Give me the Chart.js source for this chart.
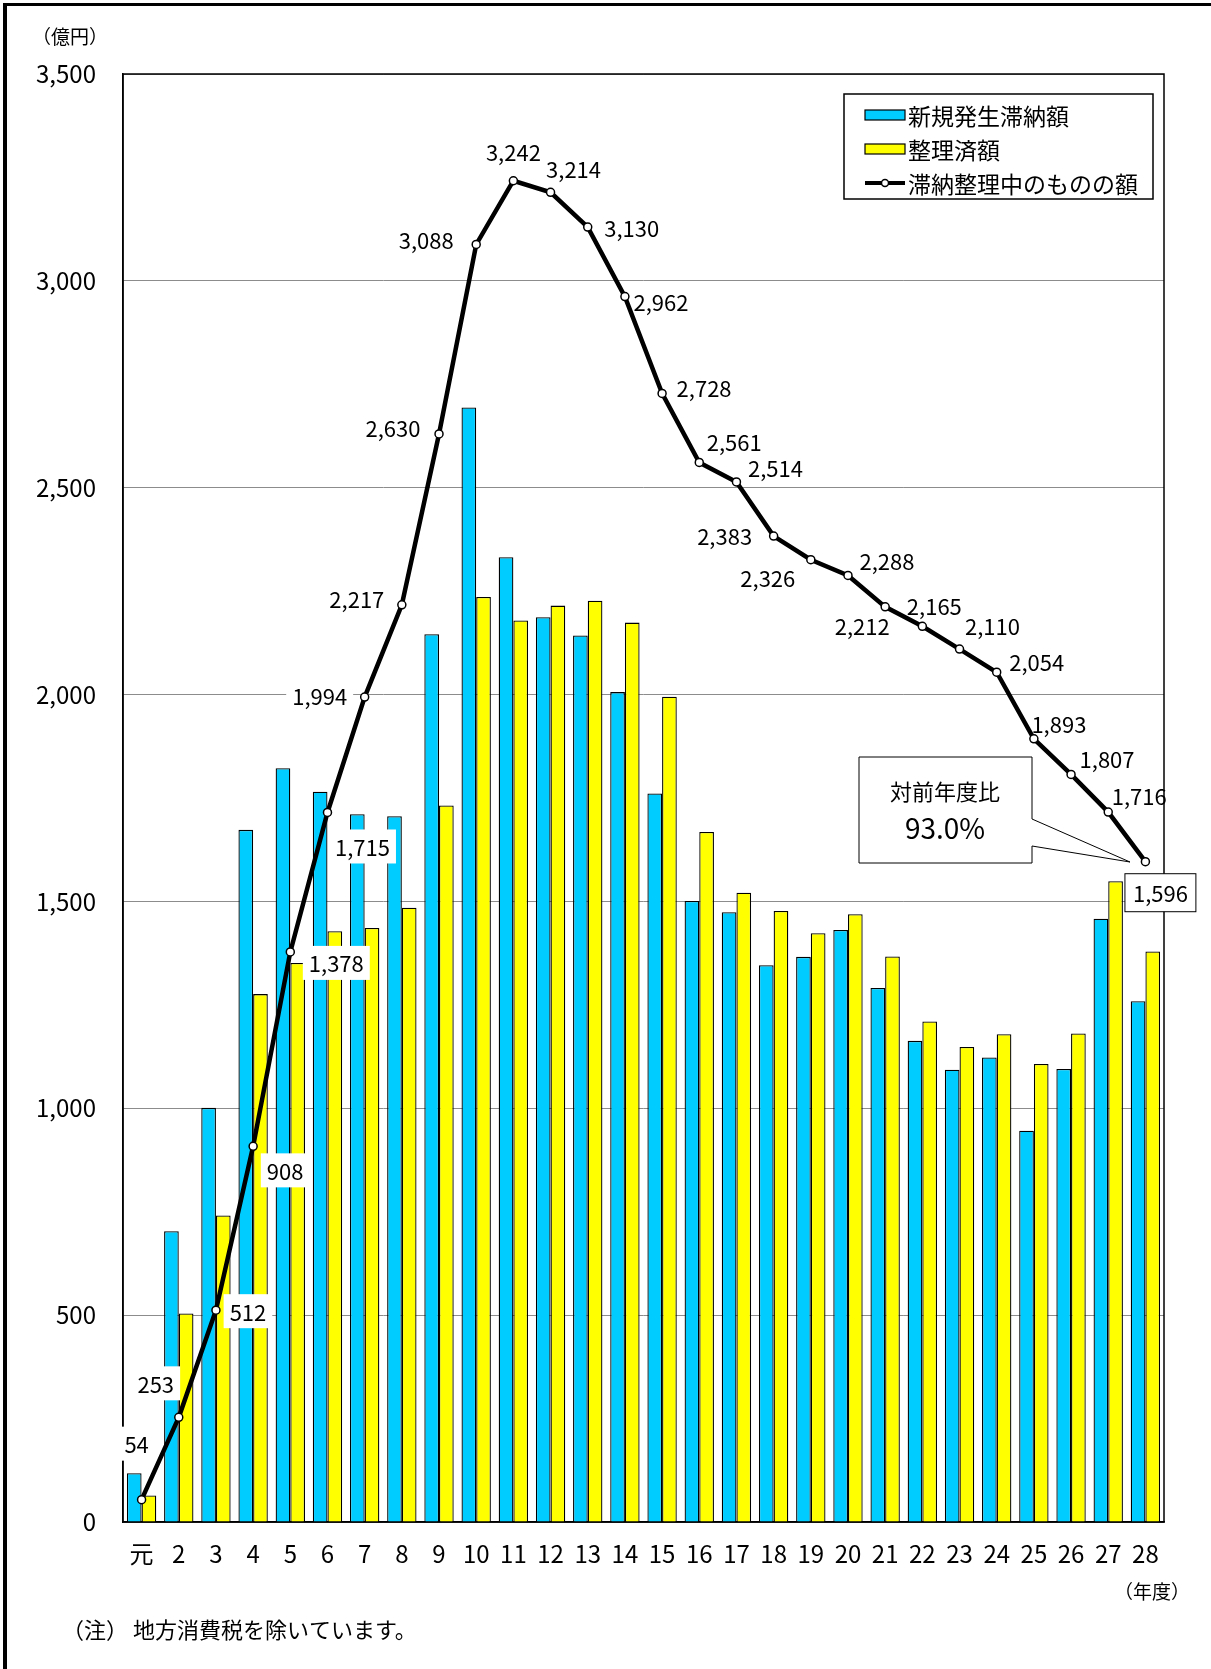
<!DOCTYPE html>
<html lang="ja">
<head>
<meta charset="utf-8">
<title>滞納整理中のものの額</title>
<script src="https://cdn.jsdelivr.net/npm/chart.js@4.4.1/dist/chart.umd.min.js"></script>
<style>
  html, body { margin: 0; padding: 0; background: #fff; }
  #wrap { position: relative; width: 1211px; height: 1669px; }
</style>
</head>
<body>
<div id="wrap"><canvas id="arrearsChart"></canvas></div>
<script>
// data (億円)
const years = ['元', '2', '3', '4', '5', '6', '7', '8', '9', '10', '11', '12', '13', '14',
    '15', '16', '17', '18', '19', '20', '21', '22', '23', '24', '25', '26', '27', '28'];
const newArrears = [118, 703, 1001, 1673, 1822, 1765, 1711, 1706, 2146, 2694, 2332, 2187, 2143, 2006,
    1761, 1501, 1474, 1346, 1366, 1431, 1291, 1163, 1093, 1123, 946, 1095, 1458, 1259];
const settled = [64, 504, 741, 1276, 1351, 1428, 1436, 1485, 1732, 2236, 2179, 2215, 2227, 2174,
    1995, 1668, 1521, 1477, 1423, 1469, 1367, 1210, 1148, 1179, 1107, 1181, 1549, 1379];
const outstanding = [54, 253, 512, 908, 1378, 1715, 1994, 2217, 2630, 3088, 3242, 3214, 3130, 2962,
    2728, 2561, 2514, 2383, 2326, 2288, 2212, 2165, 2110, 2054, 1893, 1807, 1716, 1596];
const yTicks = [0, 500, 1000, 1500, 2000, 2500, 3000, 3500];
const yoyRatio = '93.0%';

// where each line label sits relative to its point (px), and which ones get a white box
const labelOffsets = [[-5, -56], [-23, -34], [32, 1], [32, 24], [46, 11], [35, 34], [-45, -1],
    [-45, -6], [-46, -6], [-50, -5], [0, -29], [23, -24], [44, 1], [36, 5], [42, -6], [35, -21],
    [39, -14], [-49, 0], [-43, 18], [39, -15], [-23, 19], [12, -21], [33, -23], [40, -11],
    [25, -15], [36, -16], [31, -16], [15, 31]];
const boxedLabels = [0, 1, 2, 3, 4, 5, 6];

const numFont = "'Noto Sans CJK JP', sans-serif";
const jpFont = "'Noto Sans CJK JP', sans-serif";
const BLUE = '#00CCFF';
const YELLOW = '#FFFF00';

const fmt = v => v.toLocaleString('en-US');

const decorations = {
    id: 'decorations',
    beforeDatasetsDraw(chart) {
        const { ctx, chartArea: a } = chart;
        ctx.save();
        ctx.strokeStyle = '#000';
        ctx.lineWidth = 1.5;
        ctx.strokeRect(a.left, a.top, a.right - a.left, a.bottom - a.top);
        ctx.restore();
    },
    afterDatasetsDraw(chart) {
        const { ctx } = chart;
        const pts = chart.getDatasetMeta(2).data;
        ctx.save();
        ctx.font = '22px ' + numFont;
        ctx.textAlign = 'center';
        ctx.textBaseline = 'middle';
        pts.forEach((p, i) => {
            const text = fmt(outstanding[i]);
            const x = p.x + labelOffsets[i][0];
            const y = p.y + labelOffsets[i][1];
            const w = ctx.measureText(text).width + 12;
            const h = 34;
            if (boxedLabels.includes(i)) {
                ctx.fillStyle = '#fff';
                ctx.fillRect(x - w / 2, y - h / 2, w, h);
            }
            if (i === pts.length - 1) {
                ctx.fillStyle = '#fff';
                ctx.fillRect(x - w / 2 - 2, y - h / 2 - 2, w + 4, h + 4);
                ctx.strokeStyle = '#000';
                ctx.lineWidth = 1;
                ctx.strokeRect(x - w / 2 - 2, y - h / 2 - 2, w + 4, h + 4);
            }
            ctx.fillStyle = '#000';
            ctx.fillText(text, x, y + 1);
        });

        // callout 対前年度比
        ctx.beginPath();
        ctx.moveTo(859, 757);
        ctx.lineTo(1032, 757);
        ctx.lineTo(1032, 819);
        ctx.lineTo(1130, 862);
        ctx.lineTo(1032, 846);
        ctx.lineTo(1032, 863);
        ctx.lineTo(859, 863);
        ctx.closePath();
        ctx.fillStyle = '#fff';
        ctx.fill();
        ctx.strokeStyle = '#000';
        ctx.lineWidth = 1;
        ctx.stroke();
        ctx.fillStyle = '#000';
        ctx.font = '22px ' + jpFont;
        ctx.fillText('対前年度比', 945, 792);
        ctx.font = '28px ' + numFont;
        ctx.fillText(yoyRatio, 945, 828);
        ctx.restore();
    },
    afterDraw(chart) {
        const { ctx } = chart;
        ctx.save();
        // legend
        ctx.fillStyle = '#fff';
        ctx.fillRect(844, 94, 309, 105);
        ctx.strokeStyle = '#000';
        ctx.lineWidth = 1.5;
        ctx.strokeRect(844, 94, 309, 105);
        const rows = [
            { label: chart.data.datasets[0].label, color: BLUE, y: 115 },
            { label: chart.data.datasets[1].label, color: YELLOW, y: 149 },
            { label: chart.data.datasets[2].label, color: null, y: 183 }
        ];
        ctx.font = '23px ' + jpFont;
        ctx.textAlign = 'left';
        ctx.textBaseline = 'middle';
        rows.forEach(r => {
            if (r.color) {
                ctx.fillStyle = r.color;
                ctx.fillRect(865, r.y - 5, 40, 10);
                ctx.lineWidth = 1.2;
                ctx.strokeStyle = '#000';
                ctx.strokeRect(865, r.y - 5, 40, 10);
            } else {
                ctx.strokeStyle = '#000';
                ctx.lineWidth = 4;
                ctx.beginPath();
                ctx.moveTo(865, r.y);
                ctx.lineTo(905, r.y);
                ctx.stroke();
                ctx.beginPath();
                ctx.arc(885, r.y, 3.5, 0, Math.PI * 2);
                ctx.fillStyle = '#fff';
                ctx.fill();
                ctx.lineWidth = 1.5;
                ctx.stroke();
            }
            ctx.fillStyle = '#000';
            ctx.fillText(r.label, 908, r.y + 1);
        });

        // unit and notes
        ctx.font = '19px ' + jpFont;
        ctx.textAlign = 'center';
        ctx.fillText('（億円）', 70, 37);
        ctx.fillText('（年度）', 1152, 1592);
        ctx.font = '22px ' + jpFont;
        ctx.textAlign = 'left';
        ctx.fillText('（注） 地方消費税を除いています。', 62, 1630);

        // outer frame (left and top only)
        ctx.fillStyle = '#000';
        ctx.fillRect(3, 3, 4, 1666);
        ctx.fillRect(3, 3, 1208, 3);
        ctx.restore();
    }
};

const ctx = document.getElementById('arrearsChart').getContext('2d');
new Chart(ctx, {
    type: 'bar',
    data: {
        labels: years,
        datasets: [{
            label: '新規発生滞納額',
            data: newArrears,
            backgroundColor: BLUE,
            borderColor: '#000',
            borderWidth: 1.3,
            categoryPercentage: 0.79,
            barPercentage: 1.0,
            order: 1
        }, {
            label: '整理済額',
            data: settled,
            backgroundColor: YELLOW,
            borderColor: '#000',
            borderWidth: 1.3,
            categoryPercentage: 0.79,
            barPercentage: 1.0,
            order: 1
        }, {
            type: 'line',
            label: '滞納整理中のものの額',
            data: outstanding,
            borderColor: '#000',
            borderWidth: 4.5,
            pointRadius: 4,
            pointBackgroundColor: '#fff',
            pointBorderColor: '#000',
            pointBorderWidth: 1.5,
            tension: 0,
            order: 0
        }]
    },
    options: {
        responsive: true,
        maintainAspectRatio: false,
        animation: false,
        devicePixelRatio: 1,
        layout: {
            padding: { left: 0, top: 74, right: 47, bottom: 87 }
        },
        plugins: {
            legend: { display: false },
            tooltip: { enabled: false }
        },
        scales: {
            x: {
                grid: { display: false },
                border: { display: true, color: '#000', width: 1.5 },
                ticks: {
                    color: '#000',
                    font: { size: 24, family: numFont },
                    padding: 9,
                    maxRotation: 0,
                    autoSkip: false
                },
                afterFit: s => { s.height = 60; }
            },
            y: {
                min: 0,
                max: 3500,
                grid: { color: '#8c8c8c', lineWidth: 1, drawTicks: false },
                border: { display: true, color: '#000', width: 1.5 },
                ticks: {
                    color: '#000',
                    font: { size: 24, family: numFont },
                    padding: 27,
                    callback: v => fmt(v)
                },
                afterBuildTicks: axis => { axis.ticks = yTicks.map(v => ({ value: v })); },
                afterFit: s => { s.width = 123; }
            }
        }
    },
    plugins: [decorations]
});
</script>
</body>
</html>
